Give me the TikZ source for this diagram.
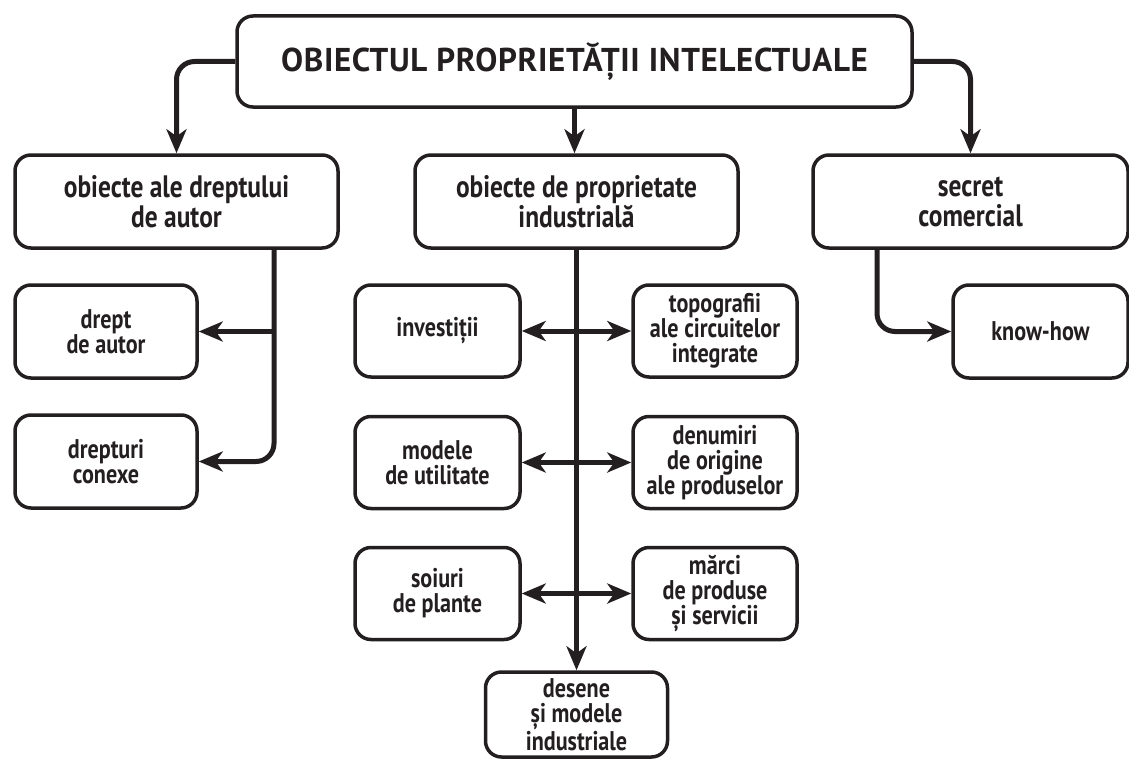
\documentclass[tikz,border=0pt]{standalone}
\usepackage{fontspec}
\setmainfont{PT Sans}[FakeStretch=0.82]
\newfontfamily\titlefont{PT Sans}[LetterSpace=2]
\usetikzlibrary{arrows.meta}
\definecolor{ink}{HTML}{231F20}

\begin{document}
\begin{tikzpicture}[x=1pt, y=-1pt,
    box/.style={draw=ink, line width=3.5pt, rounded corners=16pt, align=center, text=ink,
        inner sep=0pt, font=\bfseries\fontsize{27}{25}\selectfont},
    bigbox/.style={box, font=\bfseries\fontsize{31}{30}\selectfont},
    conn/.style={draw=ink, line width=5pt, rounded corners=18pt,
        >={Stealth[length=24pt, width=20pt, inset=7pt]}}]
    \useasboundingbox (0,0) rectangle (1129,760);

    \node[box, minimum width=675pt, minimum height=91pt, font=\titlefont\bfseries\fontsize{33}{34}\selectfont]
        (top) at (574.5,61.5) {OBIECTUL PROPRIETĂȚII INTELECTUALE};

    \node[bigbox, minimum width=323pt, minimum height=93pt] (autor) at (176.5,201.5) {obiecte ale dreptului\\de autor};
    \node[bigbox, minimum width=323pt, minimum height=93pt] (indus) at (576.5,201.5) {obiecte de proprietate\\industrială};
    \node[bigbox, minimum width=315pt, minimum height=93pt] (secret) at (970.5,201.5) {secret\\comercial};

    \node[box, minimum width=182pt, minimum height=93pt] (dreptaut) at (106,331.5) {drept\\de autor};
    \node[box, minimum width=182pt, minimum height=93pt] (conexe) at (106,461.5) {drepturi\\conexe};

    \node[box, minimum width=165pt, minimum height=92pt] (invest) at (437.5,331) {investiții};
    \node[box, minimum width=165pt, minimum height=92pt] (modele) at (437.5,462.5) {modele\\de utilitate};
    \node[box, minimum width=165pt, minimum height=92pt] (soiuri) at (437.5,593.5) {soiuri\\de plante};
    \node[box, minimum width=164pt, minimum height=92pt] (topo) at (715,331) {topografii\\ale circuitelor\\integrate};
    \node[box, minimum width=164pt, minimum height=92pt] (denum) at (715,462.5) {denumiri\\de origine\\ale produselor};
    \node[box, minimum width=164pt, minimum height=92pt] (marci) at (715,593.5) {mărci\\de produse\\și servicii};
    \node[box, minimum width=182pt, minimum height=85pt] (desene) at (576.5,714.5) {desene\\și modele\\industriale};

    \node[box, minimum width=175pt, minimum height=93pt] (knowhow) at (1040.5,331.5) {know-how};

    % from the title
    \draw[conn,->] (top.west) -| (autor.north);
    \draw[conn,->] (top.east) -| (secret.north);
    \draw[conn,->] (top.south) -- (top.south |- indus.north);

    % left branch
    \coordinate (trunkA) at (274,248);
    \draw[conn,->] (trunkA) |- (conexe.east);
    \draw[conn,->] (trunkA |- dreptaut.east) -- (dreptaut.east);

    % middle branch
    \draw[conn,->] (indus.south) -- (desene.north);
    \draw[conn,<->] (invest.east) -- (topo.west);
    \draw[conn,<->] (modele.east) -- (denum.west);
    \draw[conn,<->] (soiuri.east) -- (marci.west);

    % right branch
    \coordinate (trunkC) at (877,248);
    \draw[conn,->] (trunkC) |- (knowhow.west);
\end{tikzpicture}
\end{document}
